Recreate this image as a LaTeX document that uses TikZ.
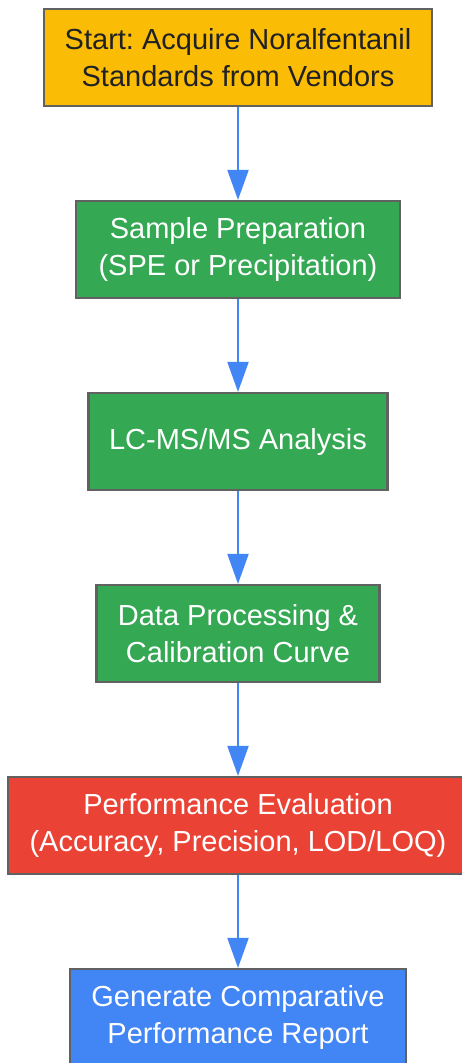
\documentclass[tikz,border=0pt]{standalone}
\usepackage{fontspec}
\setmainfont{Liberation Sans}
\usetikzlibrary{arrows.meta}
\definecolor{cyel}{HTML}{FBBC05}
\definecolor{cgrn}{HTML}{34A853}
\definecolor{cred}{HTML}{EA4335}
\definecolor{cblu}{HTML}{4285F4}
\definecolor{cbrd}{HTML}{616161}
\definecolor{cdark}{HTML}{202124}
\frenchspacing
\begin{document}
\begin{tikzpicture}[x=1pt,y=1pt,
  box/.style={draw=cbrd, line width=2.2pt, rectangle, align=center, minimum height=97pt, inner sep=0pt,
    font=\fontsize{29}{37}\selectfont, text=white},
  flow/.style={draw=cblu, line width=2pt, -{Triangle[width=21pt,length=30pt]}}]
\useasboundingbox (0,0) rectangle (462,-1063);
\begin{scope}
\clip (0,0) rectangle (462,-1063);
\node[box, fill=cyel, text=cdark, minimum width=388pt] (a) at (238,-57.5) {Start: Acquire Noralfentanil\\Standards from Vendors};
\node[box, fill=cgrn, minimum width=324pt] (b) at (238,-249.5) {Sample Preparation\\(SPE or Precipitation)};
\node[box, fill=cgrn, minimum width=299pt] (c) at (238,-441.5) {LC-MS/MS Analysis};
\node[box, fill=cgrn, minimum width=283pt] (d) at (238,-633.5) {Data Processing \&\\Calibration Curve};
\node[box, fill=cred, minimum width=460pt] (e) at (238,-825.5) {Performance Evaluation\\(Accuracy, Precision, LOD/LOQ)};
\node[box, fill=cblu, minimum width=336pt] (f) at (238,-1017.5) {Generate Comparative\\Performance Report};
\draw[flow] (a.south) -- (b.north);
\draw[flow] (b.south) -- (c.north);
\draw[flow] (c.south) -- (d.north);
\draw[flow] (d.south) -- (e.north);
\draw[flow] (e.south) -- (f.north);
\end{scope}
\end{tikzpicture}
\end{document}
